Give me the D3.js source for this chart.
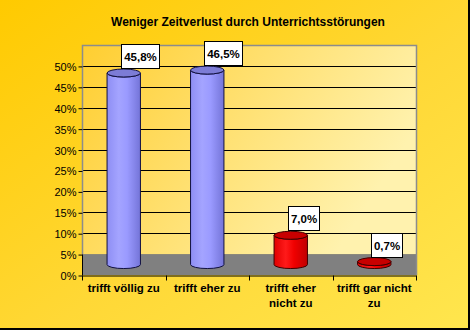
<!DOCTYPE html>
<html>
<head>
<meta charset="utf-8">
<script src="https://cdn.jsdelivr.net/npm/d3@7"></script>
<style>
  html, body { margin: 0; padding: 0; background: #fff; }
  svg { display: block; }
  text { font-family: Arial, "Liberation Sans", sans-serif; fill: #000; }
</style>
</head>
<body>
<svg id="chart" width="470" height="330"></svg>
<script>
// Survey answers and their shares (percent)
const categories = ["trifft völlig zu", "trifft eher zu", "trifft eher nicht zu", "trifft gar nicht zu"];
const categoryLines = [["trifft völlig zu"], ["trifft eher zu"], ["trifft eher", "nicht zu"], ["trifft gar nicht", "zu"]];
const values = [45.8, 46.5, 7.0, 0.7];
const valueLabels = ["45,8%", "46,5%", "7,0%", "0,7%"];
const barColors = ["blue", "blue", "red", "red"];
const yTicks = [0, 5, 10, 15, 20, 25, 30, 35, 40, 45, 50];
const yTickLabels = ["0%", "5%", "10%", "15%", "20%", "25%", "30%", "35%", "40%", "45%", "50%"];
const yMax = 55;
const floorLevel = 5;
const title = "Weniger Zeitverlust durch Unterrichtsstörungen";

const W = 470, H = 330;
const plot = { left: 82, right: 416, top: 45, bottom: 275 };

const svg = d3.select("#chart");
const defs = svg.append("defs");

// Chart background: orange to light yellow, diagonal
const bg = defs.append("linearGradient").attr("id", "bgGrad")
  .attr("x1", 0).attr("y1", 0).attr("x2", 1).attr("y2", 1);
bg.append("stop").attr("offset", 0).attr("stop-color", "#FFCA00");
bg.append("stop").attr("offset", 0.55).attr("stop-color", "#FFD836");
bg.append("stop").attr("offset", 1).attr("stop-color", "#FFE64E");

// Back wall: warm yellow to pale yellow
const wall = defs.append("linearGradient").attr("id", "wallGrad")
  .attr("x1", 0).attr("y1", 0).attr("x2", 1).attr("y2", 0.4);
wall.append("stop").attr("offset", 0).attr("stop-color", "#FFCE30");
wall.append("stop").attr("offset", 0.5).attr("stop-color", "#FFE070");
wall.append("stop").attr("offset", 1).attr("stop-color", "#FFF2AE");

// Cylinder shading
const shades = {
  blue: { body: ["#8E8EF4", "#A4A4FF", "#9A9AFF", "#7474D8"], top: "#7C7CD6", stroke: "#101040" },
  red:  { body: ["#E00000", "#FF1A1A", "#F00000", "#C00000"], top: "#C80000", stroke: "#400000" }
};
Object.entries(shades).forEach(([k, s]) => {
  const g = defs.append("linearGradient").attr("id", "cyl-" + k)
    .attr("x1", 0).attr("y1", 0).attr("x2", 1).attr("y2", 0);
  [0, 0.35, 0.6, 1].forEach((o, i) => g.append("stop").attr("offset", o).attr("stop-color", s.body[i]));
});

svg.append("rect").attr("width", W).attr("height", H).attr("fill", "url(#bgGrad)");

// Scales
const x = d3.scaleBand().domain(categories).range([plot.left, plot.right]).paddingInner(0).paddingOuter(0);
const y = d3.scaleLinear().domain([0, yMax]).range([plot.bottom, plot.top]);

// Back wall
svg.append("rect")
  .attr("x", plot.left).attr("y", y(yMax))
  .attr("width", plot.right - plot.left).attr("height", y(floorLevel) - y(yMax))
  .attr("fill", "url(#wallGrad)");

// Floor
svg.append("rect")
  .attr("x", plot.left).attr("y", y(floorLevel))
  .attr("width", plot.right - plot.left).attr("height", y(0) - y(floorLevel))
  .attr("fill", "#808080");

// Gridlines
svg.append("g").selectAll("line")
  .data(yTicks.filter(t => t > floorLevel))
  .join("line")
  .attr("x1", plot.left).attr("x2", plot.right)
  .attr("y1", d => Math.round(y(d)) + 0.5).attr("y2", d => Math.round(y(d)) + 0.5)
  .attr("stroke", "#000").attr("stroke-width", 1);

// Wall edges
svg.append("path")
  .attr("d", `M${plot.left + 0.5},${y(floorLevel)} V${Math.round(y(yMax)) + 0.5} H${plot.right + 0.5} V${plot.bottom}`)
  .attr("fill", "none").attr("stroke", "#8c8c8c").attr("stroke-width", 1.5);

// Y axis
const yAxis = d3.axisLeft(y).tickValues(yTicks)
  .tickFormat((d, i) => yTickLabels[i]).tickSize(4).tickSizeOuter(0);
const gy = svg.append("g").attr("transform", `translate(${plot.left + 0.5},0.5)`).call(yAxis);
gy.select(".domain").attr("stroke", "#000")
  .attr("d", `M0,${y(floorLevel)}V${y(0)}`);
gy.selectAll(".tick line").attr("stroke", "#000");
gy.selectAll(".tick text").attr("x", -6).attr("dy", "0.36em")
  .style("font-size", "11px").style("font-family", "Arial, 'Liberation Sans', sans-serif").attr("fill", "#000");

// X axis
const xAxis = d3.axisBottom(x).tickSize(0).tickFormat("");
const gx = svg.append("g").attr("transform", `translate(0,${Math.round(y(0)) + 0.5})`).call(xAxis);
gx.select(".domain").attr("stroke", "#000");
const bounds = categories.map(c => x(c)).concat([x.range()[1]]);
gx.selectAll(".bound").data(bounds).join("line").attr("class", "bound")
  .attr("x1", d => Math.round(d) + 0.5).attr("x2", d => Math.round(d) + 0.5)
  .attr("y1", 0).attr("y2", 5).attr("stroke", "#000");

// Category labels
const catG = svg.append("g");
categories.forEach((c, i) => {
  const t = catG.append("text")
    .attr("x", x(c) + x.bandwidth() / 2).attr("y", 292)
    .attr("text-anchor", "middle")
    .style("font-size", "11.5px").style("font-weight", "bold");
  categoryLines[i].forEach((line, j) => {
    t.append("tspan").attr("x", x(c) + x.bandwidth() / 2).attr("dy", j === 0 ? 0 : 14.5).text(line);
  });
});

// Cylinders stand in the middle of the floor depth
const baseY = (y(0) + y(floorLevel)) / 2;
const rx = x.bandwidth() * 0.2;
const ry = 4;

const bars = svg.append("g").selectAll("g").data(values).join("g");
bars.each(function (v, i) {
  const g = d3.select(this);
  const s = shades[barColors[i]];
  const cx = x(categories[i]) + x.bandwidth() / 2;
  const topY = baseY - (y(0) - y(v));
  g.append("path")
    .attr("d", `M${cx - rx},${topY} L${cx - rx},${baseY} A${rx},${ry} 0 0 0 ${cx + rx},${baseY} L${cx + rx},${topY} A${rx},${ry} 0 0 1 ${cx - rx},${topY} Z`)
    .attr("fill", `url(#cyl-${barColors[i]})`)
    .attr("stroke", s.stroke).attr("stroke-width", 1);
  g.append("ellipse")
    .attr("cx", cx).attr("cy", topY).attr("rx", rx).attr("ry", ry)
    .attr("fill", s.top).attr("stroke", s.stroke).attr("stroke-width", 1);

  // Value label box
  const label = g.append("text")
    .attr("x", 0).attr("y", 0)
    .style("font-size", "11.5px").style("font-weight", "bold")
    .text(valueLabels[i]);
  const tw = label.node().getComputedTextLength();
  const bw = Math.round(tw + 5), bh = 24;
  const bx = Math.round(cx - 3) + 0.5;
  const by = Math.round(topY - ry - bh) - 0.5;
  g.insert("rect", "text")
    .attr("x", bx).attr("y", by).attr("width", bw).attr("height", bh)
    .attr("fill", "#fff").attr("stroke", "#000").attr("stroke-width", 1);
  label.attr("x", bx + bw / 2).attr("y", by + 16).attr("text-anchor", "middle");
});

// Title
svg.append("text")
  .attr("x", 248).attr("y", 26).attr("text-anchor", "middle")
  .style("font-size", "12px").style("font-weight", "bold")
  .text(title);

// Frame edges
svg.append("path")
  .attr("d", `M${W - 1},0 V${H - 1} H0`)
  .attr("fill", "none").attr("stroke", "#000").attr("stroke-width", 2);
</script>
</body>
</html>
